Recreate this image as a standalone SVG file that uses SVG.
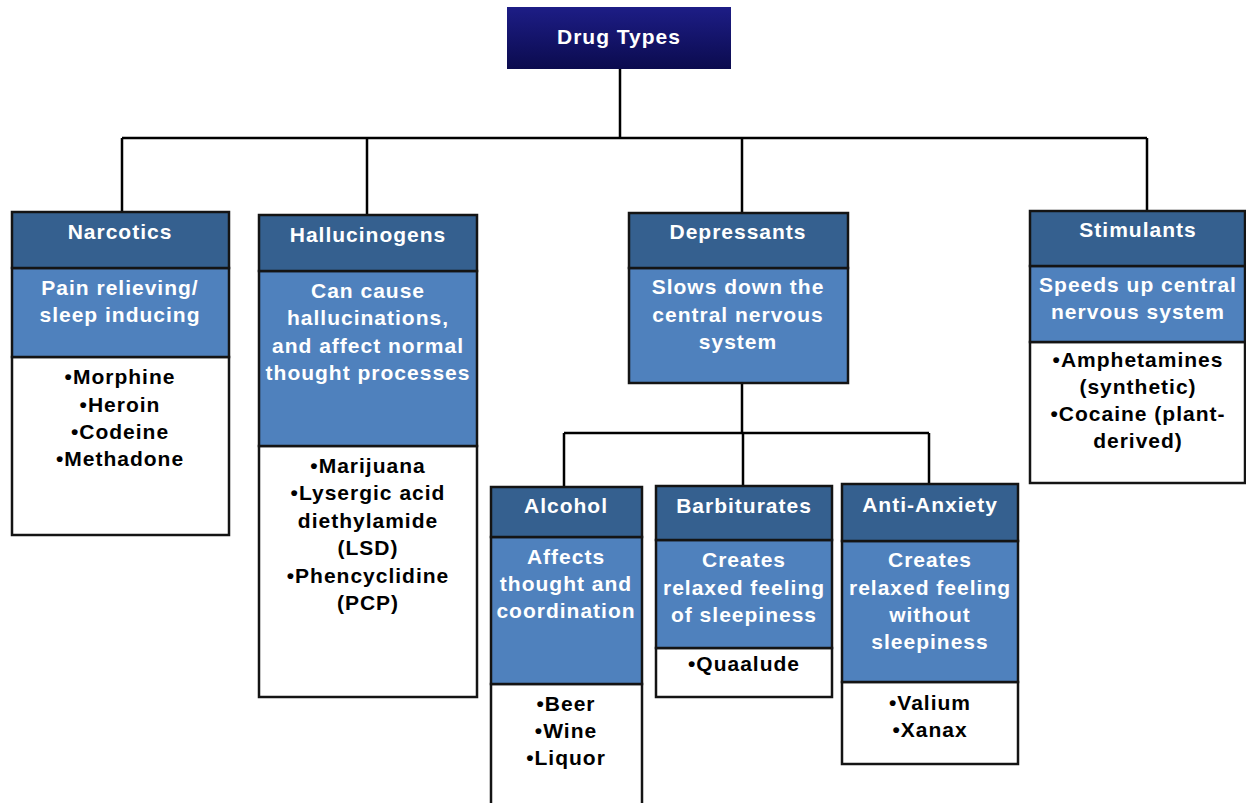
<svg xmlns="http://www.w3.org/2000/svg" width="1246" height="803" viewBox="0 0 1246 803">
  <defs>
    <linearGradient id="rootFill" x1="0" y1="0" x2="0" y2="1">
      <stop offset="0" stop-color="#1d1d86"/>
      <stop offset="1" stop-color="#0b0b4e"/>
    </linearGradient>
    <style>
      text { font-family: "Liberation Sans", Arial, sans-serif; font-weight: bold; font-size: 21px; letter-spacing: 1px; text-anchor: middle; }
      .hd { fill: #35608f; stroke: #141414; stroke-width: 2.5; }
      .ds { fill: #4f81bd; stroke: #141414; stroke-width: 2.5; }
      .ls { fill: #ffffff; stroke: #141414; stroke-width: 2.5; }
      .w { fill: #ffffff; }
      .k { fill: #000000; }
      .conn { fill: none; stroke: #000000; stroke-width: 2.5; }
    </style>
  </defs>
  <rect width="1246" height="803" fill="#ffffff"/>

  <!-- connectors -->
  <g id="connectors" class="conn">
    <path d="M620 69 V138 M122 138 H1147 M122 138 V212 M367 138 V215 M742 138 V213 M1147 138 V212"/>
    <path d="M742 383 V433 M564 433 H929 M564 433 V487 M743 433 V486 M929 433 V484"/>
  </g>

  <g id="drug-types">
    <rect x="507" y="7" width="224" height="62" fill="url(#rootFill)"/>
    <text x="619" y="44" class="w">Drug Types</text>
  </g>

  <g id="narcotics">
    <rect x="12" y="357" width="217" height="178" class="ls"/>
    <rect x="12" y="268" width="217" height="89" class="ds"/>
    <rect x="12" y="212" width="217" height="56" class="hd"/>
    <text x="120" y="239" class="w">Narcotics</text>
    <text x="120" y="295" class="w">Pain relieving/</text>
    <text x="120" y="322" class="w">sleep inducing</text>
    <text x="120" y="384" class="k">•Morphine</text>
    <text x="120" y="412" class="k">•Heroin</text>
    <text x="120" y="439" class="k">•Codeine</text>
    <text x="120" y="466" class="k">•Methadone</text>
  </g>

  <g id="hallucinogens">
    <rect x="259" y="446" width="218" height="251" class="ls"/>
    <rect x="259" y="271" width="218" height="175" class="ds"/>
    <rect x="259" y="215" width="218" height="56" class="hd"/>
    <text x="368" y="242" class="w">Hallucinogens</text>
    <text x="368" y="298" class="w">Can cause</text>
    <text x="368" y="325" class="w">hallucinations,</text>
    <text x="368" y="353" class="w">and affect normal</text>
    <text x="368" y="380" class="w">thought processes</text>
    <text x="368" y="473" class="k">•Marijuana</text>
    <text x="368" y="500" class="k">•Lysergic acid</text>
    <text x="368" y="528" class="k">diethylamide</text>
    <text x="368" y="555" class="k">(LSD)</text>
    <text x="368" y="583" class="k">•Phencyclidine</text>
    <text x="368" y="610" class="k">(PCP)</text>
  </g>

  <g id="depressants">
    <rect x="629" y="268" width="219" height="115" class="ds"/>
    <rect x="629" y="213" width="219" height="55" class="hd"/>
    <text x="738" y="239" class="w">Depressants</text>
    <text x="738" y="294" class="w">Slows down the</text>
    <text x="738" y="322" class="w">central nervous</text>
    <text x="738" y="349" class="w">system</text>
  </g>

  <g id="stimulants">
    <rect x="1030" y="342" width="215" height="141" class="ls"/>
    <rect x="1030" y="266" width="215" height="76" class="ds"/>
    <rect x="1030" y="211" width="215" height="55" class="hd"/>
    <text x="1138" y="237" class="w">Stimulants</text>
    <text x="1138" y="292" class="w">Speeds up central</text>
    <text x="1138" y="319" class="w">nervous system</text>
    <text x="1138" y="367" class="k">•Amphetamines</text>
    <text x="1138" y="394" class="k">(synthetic)</text>
    <text x="1138" y="421" class="k">•Cocaine (plant-</text>
    <text x="1138" y="448" class="k">derived)</text>
  </g>

  <g id="alcohol">
    <rect x="491" y="684" width="151" height="125" class="ls"/>
    <rect x="491" y="537" width="151" height="147" class="ds"/>
    <rect x="491" y="487" width="151" height="50" class="hd"/>
    <text x="566" y="513" class="w">Alcohol</text>
    <text x="566" y="564" class="w">Affects</text>
    <text x="566" y="591" class="w">thought and</text>
    <text x="566" y="618" class="w">coordination</text>
    <text x="566" y="711" class="k">•Beer</text>
    <text x="566" y="738" class="k">•Wine</text>
    <text x="566" y="765" class="k">•Liquor</text>
  </g>

  <g id="barbiturates">
    <rect x="656" y="648" width="176" height="49" class="ls"/>
    <rect x="656" y="540" width="176" height="108" class="ds"/>
    <rect x="656" y="486" width="176" height="54" class="hd"/>
    <text x="744" y="513" class="w">Barbiturates</text>
    <text x="744" y="567" class="w">Creates</text>
    <text x="744" y="595" class="w">relaxed feeling</text>
    <text x="744" y="622" class="w">of sleepiness</text>
    <text x="744" y="671" class="k">•Quaalude</text>
  </g>

  <g id="anti-anxiety">
    <rect x="842" y="682" width="176" height="82" class="ls"/>
    <rect x="842" y="541" width="176" height="141" class="ds"/>
    <rect x="842" y="484" width="176" height="57" class="hd"/>
    <text x="930" y="512" class="w">Anti-Anxiety</text>
    <text x="930" y="567" class="w">Creates</text>
    <text x="930" y="595" class="w">relaxed feeling</text>
    <text x="930" y="622" class="w">without</text>
    <text x="930" y="649" class="w">sleepiness</text>
    <text x="930" y="710" class="k">•Valium</text>
    <text x="930" y="737" class="k">•Xanax</text>
  </g>
</svg>
